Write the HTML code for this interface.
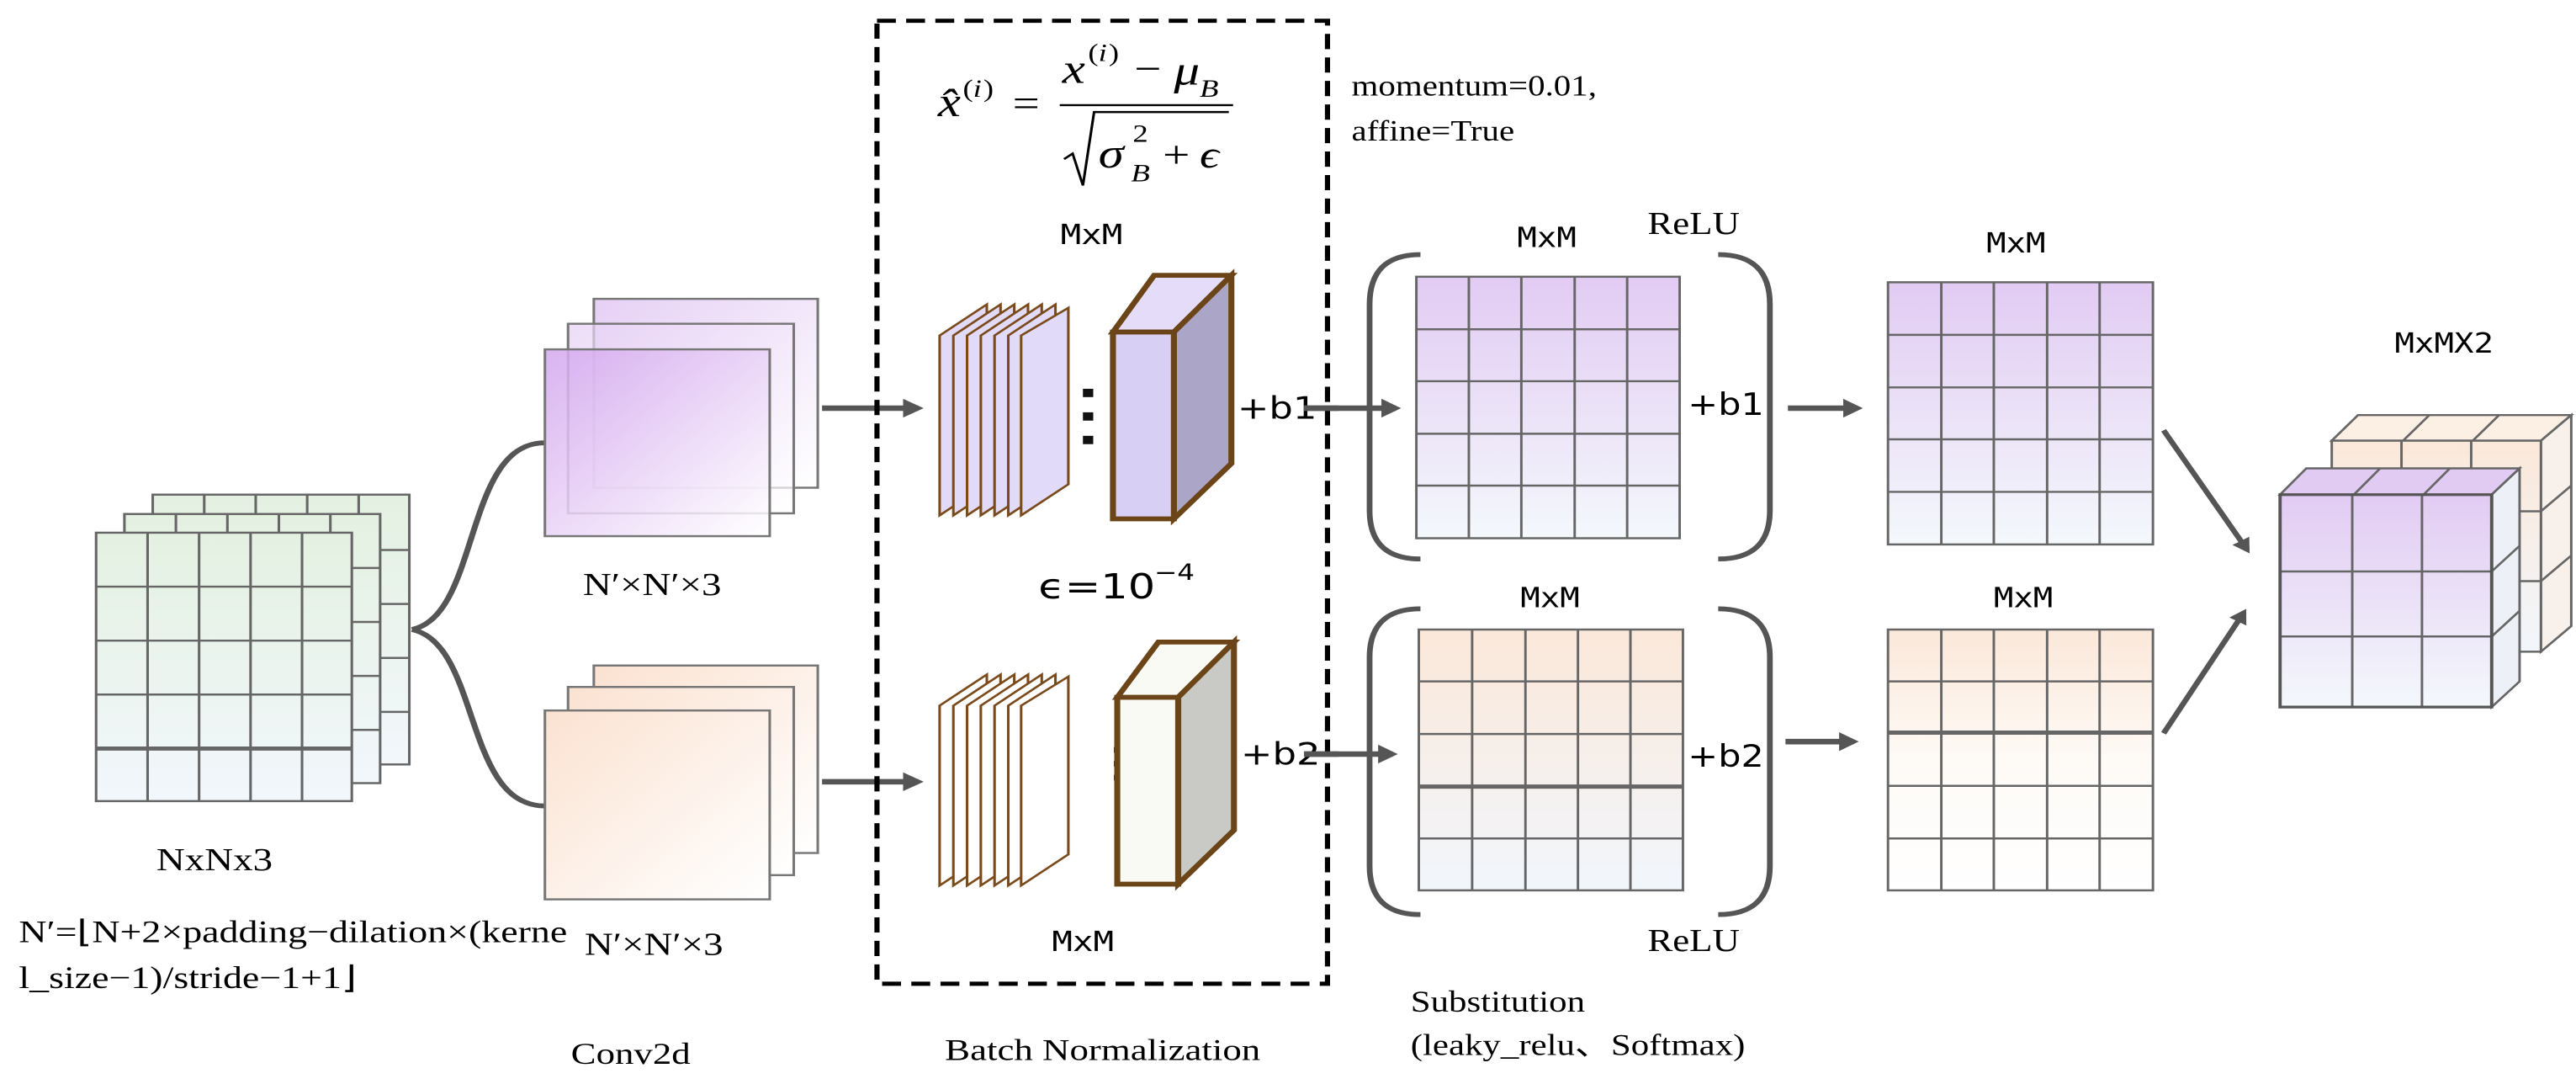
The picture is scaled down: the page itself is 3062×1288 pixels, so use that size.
<!DOCTYPE html>
<html><head><meta charset="utf-8"><style>
html,body{margin:0;padding:0;background:#fff;width:3062px;height:1288px;overflow:hidden}
svg{display:block}
.serif{font-family:"Liberation Serif",serif}
.sans{font-family:"DejaVu Sans","Liberation Sans",sans-serif}
.mono{font-family:"DejaVu Sans Mono","Liberation Mono",monospace}
</style></head><body>
<svg width="3062" height="1288" viewBox="0 0 3062 1288" xmlns="http://www.w3.org/2000/svg">
<defs>
<linearGradient id="gGreen" x1="0" y1="0" x2="0" y2="1"><stop offset="0" stop-color="#e4f1e1"/><stop offset="1" stop-color="#f2f7fc"/></linearGradient>
<linearGradient id="gPurpV" x1="0" y1="0" x2="0" y2="1"><stop offset="0" stop-color="#e2cbf3"/><stop offset="1" stop-color="#f4f8fc"/></linearGradient>
<linearGradient id="gPeachV" x1="0" y1="0" x2="0" y2="1"><stop offset="0" stop-color="#fbe8d9"/><stop offset="1" stop-color="#f1f6fc"/></linearGradient>
<linearGradient id="gPeachV2" x1="0" y1="0" x2="0" y2="1"><stop offset="0" stop-color="#fbe8d9"/><stop offset="0.5" stop-color="#fefaf6"/><stop offset="1" stop-color="#ffffff"/></linearGradient>
<linearGradient id="gPurpD" x1="0" y1="0" x2="1" y2="1"><stop offset="0" stop-color="#d3a6ee"/><stop offset="1" stop-color="#ffffff"/></linearGradient>
<linearGradient id="gPurpD2" x1="0" y1="0" x2="1" y2="1"><stop offset="0" stop-color="#e6d0f5"/><stop offset="1" stop-color="#ffffff"/></linearGradient>
<linearGradient id="gPeachD" x1="0" y1="0" x2="1" y2="1"><stop offset="0" stop-color="#fbe2d1"/><stop offset="1" stop-color="#ffffff"/></linearGradient>
<marker id="ah" markerWidth="4" markerHeight="4" refX="2.2" refY="2" orient="auto" markerUnits="strokeWidth"><path d="M0,0.3 L3,2 L0,3.7 Z" fill="#555"/></marker>
</defs>

<g transform="scale(1.02,0.822)">
  <g stroke="#666" stroke-width="3">
    <rect x="178" y="715" width="299" height="390" fill="url(#gGreen)"/>
    <path d="M238,715V743M298,715V743M358,715V743M418,715V743M443,795H477M443,873H477M443,951H477M443,1029H477" fill="none"/>
    <rect x="145" y="743" width="298" height="389" fill="url(#gGreen)"/>
    <path d="M205,743V770M265,743V770M325,743V770M385,743V770M410,821H443M410,899H443M410,977H443M410,1055H443" fill="none"/>
    <rect x="112" y="770" width="298" height="388" fill="url(#gGreen)"/>
    <path d="M172,770V1158M232,770V1158M292,770V1158M352,770V1158M112,848H410M112,926H410M112,1004H410" fill="none"/>
    <path d="M112,1082H410" stroke-width="6" fill="none"/>
  </g>
  <text x="250" y="1258" class="serif" font-size="46" text-anchor="middle">NxNx3</text>
  <text x="22" y="1362" class="serif" font-size="45">N′=⌊N+2×padding−dilation×(kerne</text>
  <text x="22" y="1428" class="serif" font-size="45">l_size−1)/stride−1+1⌋</text>

  <path d="M480,910 C560,890 540,640 635,640 M480,910 C560,930 540,1165 635,1165" stroke="#555" stroke-width="7" fill="none"/>

  <g stroke="#777" stroke-width="3">
    <rect x="692" y="432" width="261" height="273" fill="url(#gPurpD2)"/>
    <rect x="662" y="468" width="263" height="274" fill="url(#gPurpD2)" fill-opacity="0.7"/>
    <rect x="635" y="505" width="262" height="270" fill="url(#gPurpD)" fill-opacity="0.85"/>
  </g>
  <text x="760" y="860" class="serif" font-size="46" text-anchor="middle">N′×N′×3</text>
  <g stroke="#777" stroke-width="3">
    <rect x="692" y="962" width="261" height="271" fill="url(#gPeachD)"/>
    <rect x="662" y="993" width="263" height="272" fill="url(#gPeachD)"/>
    <rect x="635" y="1027" width="262" height="273" fill="url(#gPeachD)"/>
  </g>
  <text x="762" y="1380" class="serif" font-size="46" text-anchor="middle">N′×N′×3</text>

  <path d="M958,590 H1070" stroke="#555" stroke-width="8" marker-end="url(#ah)"/>
  <path d="M958,1130 H1070" stroke="#555" stroke-width="8" marker-end="url(#ah)"/>

  <rect x="1022" y="30" width="525" height="1392" fill="none" stroke="#000" stroke-width="6" stroke-dasharray="22,12"/>

  <g class="serif" font-style="italic">
    <text x="1093" y="168" font-size="60">x̂</text>
    <text x="1122" y="140" font-size="36" font-style="normal">(</text><text x="1134" y="140" font-size="36">i</text><text x="1146" y="140" font-size="36" font-style="normal">)</text>
    <text x="1180" y="168" font-size="56" font-style="normal">=</text>
    <text x="1238" y="120" font-size="60">x</text>
    <text x="1268" y="88" font-size="36" font-style="normal">(</text><text x="1280" y="88" font-size="36">i</text><text x="1292" y="88" font-size="36" font-style="normal">)</text>
    <text x="1322" y="118" font-size="56" font-style="normal">−</text>
    <text x="1368" y="122" font-size="60">μ</text>
    <text x="1398" y="140" font-size="36">B</text>
    <path d="M1235,152 H1437" stroke="#000" stroke-width="3"/>
    <path d="M1240,230 L1250,222 L1262,268 L1275,162 H1432" stroke="#000" stroke-width="3" fill="none"/>
    <text x="1280" y="242" font-size="60">σ</text>
    <text x="1320" y="205" font-size="36" font-style="normal">2</text>
    <text x="1318" y="262" font-size="36">B</text>
    <text x="1355" y="242" font-size="56" font-style="normal">+</text>
    <text x="1398" y="242" font-size="56">ϵ</text>
  </g>
  <text x="1272" y="353" class="mono" font-size="40" text-anchor="middle">MxM</text>

  <g stroke="#7a4a1a" stroke-width="3" fill="#e2daf9">
    <path d="M1095,485 L1150,440 L1150,700 L1095,745 Z"/>
    <path d="M1111,485 L1166,440 L1166,700 L1111,745 Z"/>
    <path d="M1127,485 L1182,440 L1182,700 L1127,745 Z"/>
    <path d="M1143,485 L1198,440 L1198,700 L1143,745 Z"/>
    <path d="M1159,485 L1214,440 L1214,700 L1159,745 Z"/>
    <path d="M1175,485 L1230,440 L1230,700 L1175,745 Z"/>
    <path d="M1190,485 L1245,445 L1245,700 L1190,745 Z"/>
  </g>
  <g fill="#111"><rect x="1262" y="562" width="12" height="12"/><rect x="1262" y="596" width="12" height="12"/><rect x="1262" y="630" width="12" height="12"/></g>
  <g stroke="#6b4518" stroke-width="7" stroke-linejoin="miter">
    <path d="M1297,480 L1345,398 L1435,398 L1368,480 Z" fill="#e4dcf8"/>
    <path d="M1368,480 L1435,398 L1435,670 L1368,750 Z" fill="#aba5c8"/>
    <rect x="1297" y="480" width="71" height="270" fill="#d8d0f4"/>
  </g>
  <text x="1442" y="605" class="sans" font-size="44">+b1</text>
  <path d="M1520,590 H1560" stroke="#555" stroke-width="8"/>

  <text x="1210" y="865" class="sans" font-size="50">ϵ=10</text>
  <text x="1345" y="838" class="sans" font-size="32">−4</text>

  <g stroke="#7a4a1a" stroke-width="3" fill="#ffffff">
    <path d="M1095,1020 L1150,975 L1150,1235 L1095,1280 Z"/>
    <path d="M1111,1020 L1166,975 L1166,1235 L1111,1280 Z"/>
    <path d="M1127,1020 L1182,975 L1182,1235 L1127,1280 Z"/>
    <path d="M1143,1020 L1198,975 L1198,1235 L1143,1280 Z"/>
    <path d="M1159,1020 L1214,975 L1214,1235 L1159,1280 Z"/>
    <path d="M1175,1020 L1230,975 L1230,1235 L1175,1280 Z"/>
    <path d="M1190,1020 L1245,978 L1245,1235 L1190,1280 Z"/>
  </g>
  <g fill="#333"><rect x="1298" y="1080" width="6" height="8"/><rect x="1298" y="1100" width="6" height="8"/><rect x="1298" y="1120" width="6" height="8"/></g>
  <g stroke="#6b4518" stroke-width="7">
    <path d="M1302,1008 L1350,928 L1438,928 L1373,1008 Z" fill="#fafaf4"/>
    <path d="M1373,1008 L1438,928 L1438,1200 L1373,1278 Z" fill="#c9cac5"/>
    <rect x="1302" y="1008" width="71" height="270" fill="#fafaf4"/>
  </g>
  <text x="1446" y="1105" class="sans" font-size="44">+b2</text>
  <path d="M1520,1090 H1560" stroke="#555" stroke-width="8"/>
  <text x="1262" y="1375" class="mono" font-size="40" text-anchor="middle">MxM</text>

  <text x="735" y="1538" class="serif" font-size="44" text-anchor="middle">Conv2d</text>
  <text x="1285" y="1532" class="serif" font-size="44" text-anchor="middle">Batch Normalization</text>
</g>

<g transform="translate(1550,0) scale(0.975,0.822)">
  <text x="58" y="138" class="serif" font-size="42">momentum=0.01,</text>
  <text x="58" y="203" class="serif" font-size="42">affine=True</text>

  <path d="M0,590 H112" stroke="#555" stroke-width="8" marker-end="url(#ah)"/>
  <path d="M0,1090 H108" stroke="#555" stroke-width="8" marker-end="url(#ah)"/>

  <g stroke="#555" stroke-width="7" fill="none">
    <path d="M142,368 Q80,368 80,440 L80,738 Q80,808 142,808"/>
    <path d="M505,368 Q568,368 568,440 L568,738 Q568,808 505,808"/>
    <path d="M142,880 Q80,880 80,950 L80,1252 Q80,1322 142,1322"/>
    <path d="M505,880 Q568,880 568,950 L568,1252 Q568,1322 505,1322"/>
  </g>

  <g stroke="#666" stroke-width="3" fill="none">
    <rect x="137" y="400" width="321" height="378" fill="url(#gPurpV)"/>
    <path d="M201,400V778M265,400V778M330,400V778M394,400V778M137,476H458M137,551H458M137,627H458M137,702H458"/>
  </g>
  <text x="296" y="357" class="mono" font-size="40" text-anchor="middle">MxM</text>
  <text x="475" y="338" class="serif" font-size="46" text-anchor="middle">ReLU</text>
  <text x="468" y="600" class="sans" font-size="44">+b1</text>

  <g stroke="#666" stroke-width="3" fill="none">
    <rect x="140" y="910" width="322" height="377" fill="url(#gPeachV)"/>
    <path d="M205,910V1287M270,910V1287M334,910V1287M398,910V1287M140,985H462M140,1061H462M140,1212H462"/>
    <path d="M140,1137H462" stroke-width="6"/>
  </g>
  <text x="300" y="878" class="mono" font-size="40" text-anchor="middle">MxM</text>
  <text x="468" y="1108" class="sans" font-size="44">+b2</text>
  <text x="475" y="1375" class="serif" font-size="46" text-anchor="middle">ReLU</text>
  <text x="130" y="1462" class="serif" font-size="44">Substitution</text>
  <text x="130" y="1525" class="serif" font-size="44">(leaky_relu、Softmax)</text>

  <path d="M590,590 H675" stroke="#555" stroke-width="8" marker-end="url(#ah)"/>
  <path d="M587,1072 H670" stroke="#555" stroke-width="8" marker-end="url(#ah)"/>

  <g stroke="#666" stroke-width="3" fill="none">
    <rect x="712" y="408" width="323" height="379" fill="url(#gPurpV)"/>
    <path d="M777,408V787M841,408V787M906,408V787M970,408V787M712,484H1035M712,560H1035M712,635H1035M712,711H1035"/>
  </g>
  <text x="868" y="365" class="mono" font-size="40" text-anchor="middle">MxM</text>
  <g stroke="#666" stroke-width="3" fill="none">
    <rect x="712" y="910" width="323" height="377" fill="url(#gPeachV2)"/>
    <path d="M777,910V1287M841,910V1287M906,910V1287M970,910V1287M712,985H1035M712,1136H1035M712,1212H1035"/>
    <path d="M712,1059H1035" stroke-width="6"/>
  </g>
  <text x="877" y="878" class="mono" font-size="40" text-anchor="middle">MxM</text>

  <path d="M1048,622 L1150,795" stroke="#555" stroke-width="7" marker-end="url(#ah)"/>
  <path d="M1048,1060 L1146,885" stroke="#555" stroke-width="7" marker-end="url(#ah)"/>

  <g stroke="#666" stroke-width="3">
    <path d="M1253,637 L1285,600 L1545,600 L1508,637 Z" fill="#fcefe4"/>
    <path d="M1508,637 L1545,600 L1545,905 L1508,942 Z" fill="#f8f0ea"/>
    <rect x="1253" y="637" width="255" height="305" fill="url(#gPeachV)"/>
    <path d="M1338,637V942M1423,637V942M1253,739H1508M1253,840H1508M1340,637L1372,600M1425,637L1457,600M1508,739L1545,702M1508,840L1545,803" fill="none"/>
  </g>
  <g stroke="#666" stroke-width="3">
    <path d="M1190,715 L1222,677 L1482,677 L1448,715 Z" fill="#e2cbf3"/>
    <path d="M1448,715 L1482,677 L1482,985 L1448,1022 Z" fill="#eef0f8"/>
    <rect x="1190" y="715" width="258" height="307" fill="url(#gPurpV)"/>
    <path d="M1278,715V1022M1363,715V1022M1190,826H1448M1190,920H1448M1280,715L1312,677M1365,715L1397,677M1448,826L1482,789M1448,920L1482,883" fill="none"/>
  </g>
  <path d="M1190,715 H1448 V1022 H1190 Z" fill="none" stroke="#555" stroke-width="4"/>
  <text x="1390" y="510" class="mono" font-size="40" text-anchor="middle">MxMX2</text>
</g>
</svg>
</body></html>
